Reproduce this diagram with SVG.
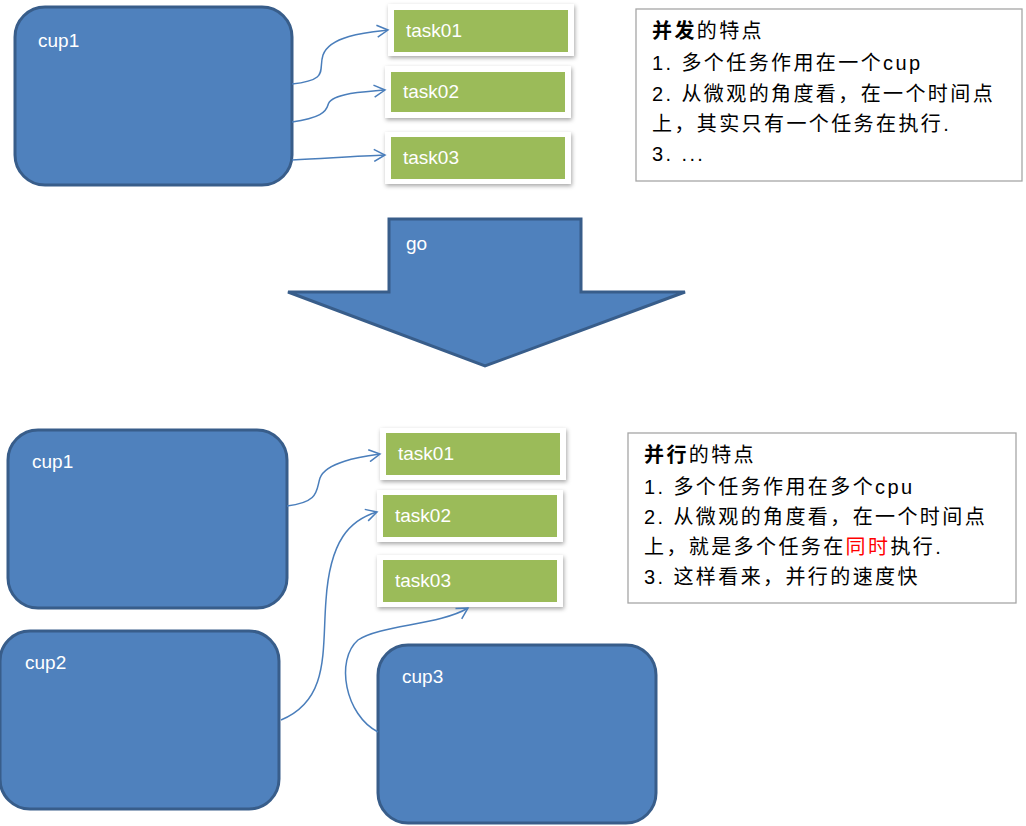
<svg xmlns="http://www.w3.org/2000/svg" width="1026" height="826" viewBox="0 0 1026 826">
<defs>
<filter id="sh" x="-10%" y="-20%" width="130%" height="150%"><feDropShadow dx="1" dy="2" stdDeviation="2" flood-color="#000" flood-opacity="0.35"/></filter>
<marker id="ar" markerWidth="14" markerHeight="14" refX="12" refY="7" orient="auto" markerUnits="userSpaceOnUse"><path d="M1,1 L12,7 L1,13" fill="none" stroke="#4a7ebb" stroke-width="1.5"/></marker>
</defs>
<style>
.cpu{fill:#4f81bd;stroke:#385d8a;stroke-width:3}
.tw{fill:#fff;filter:url(#sh)}
.tg{fill:#9bbb59}
.t{font-family:"Liberation Sans","Noto Sans CJK SC",sans-serif;font-size:19px;fill:#fff}
.b{font-family:"Liberation Sans","Noto Sans CJK SC",sans-serif;font-size:20px;fill:#000;letter-spacing:2.4px}
.box{fill:#fff;stroke:#a6a6a6;stroke-width:1.3}
.c{fill:none;stroke:#4a7ebb;stroke-width:1.5;marker-end:url(#ar)}
</style>
<rect width="1026" height="826" fill="#fff"/>
<g id="cup1a"><rect class="cpu" x="15" y="7" width="277" height="178" rx="30"/><text class="t" x="38" y="47">cup1</text></g>
<g id="t01a"><rect class="tw" x="388" y="4" width="186" height="52"/><rect class="tg" x="394" y="10" width="174" height="42"/><text class="t" x="406" y="37">task01</text></g>
<g id="t02a"><rect class="tw" x="385" y="66" width="186" height="52"/><rect class="tg" x="391" y="72" width="174" height="40"/><text class="t" x="403" y="98">task02</text></g>
<g id="t03a"><rect class="tw" x="385" y="132" width="186" height="52"/><rect class="tg" x="391" y="137" width="174" height="42"/><text class="t" x="403" y="164">task03</text></g>
<g id="note1"><rect class="box" x="636" y="9" width="386" height="172"/>
<text class="b" x="652" y="38"><tspan font-weight="bold">并发</tspan>的特点</text>
<text class="b" x="652" y="70">1. 多个任务作用在一个cup</text>
<text class="b" x="652" y="101">2. 从微观的角度看，在一个时间点</text>
<text class="b" x="652" y="131">上，其实只有一个任务在执行.</text>
<text class="b" x="652" y="161">3. ...</text></g>
<g id="go"><path class="cpu" d="M389,219 H581 V292 H685 L485,366 L288,292 H389 Z" stroke-width="2.5"/><text class="t" x="406" y="250">go</text></g>
<g id="cup1b"><rect class="cpu" x="8" y="430" width="279" height="178" rx="30"/><text class="t" x="32" y="468">cup1</text></g>
<g id="cup2"><rect class="cpu" x="0" y="631" width="279" height="178" rx="30"/><text class="t" x="25" y="669">cup2</text></g>
<g id="cup3"><rect class="cpu" x="378" y="645" width="278" height="178" rx="30"/><text class="t" x="402" y="683">cup3</text></g>
<g id="t01b"><rect class="tw" x="380" y="428" width="186" height="52"/><rect class="tg" x="386" y="433" width="174" height="42"/><text class="t" x="398" y="460">task01</text></g>
<g id="t02b"><rect class="tw" x="377" y="490" width="186" height="52"/><rect class="tg" x="383" y="495" width="174" height="42"/><text class="t" x="395" y="522">task02</text></g>
<g id="t03b"><rect class="tw" x="377" y="555" width="186" height="52"/><rect class="tg" x="383" y="560" width="174" height="42"/><text class="t" x="395" y="587">task03</text></g>
<g id="note2"><rect class="box" x="628" y="433" width="388" height="170"/>
<text class="b" x="644" y="462"><tspan font-weight="bold">并行</tspan>的特点</text>
<text class="b" x="644" y="494">1. 多个任务作用在多个cpu</text>
<text class="b" x="644" y="524">2. 从微观的角度看，在一个时间点</text>
<text class="b" x="644" y="554">上，就是多个任务在<tspan fill="#ff0000">同时</tspan>执行.</text>
<text class="b" x="644" y="584">3. 这样看来，并行的速度快</text></g>
<g id="connectors">
<path class="c" d="M292,84 C330,80 318,70 323,55 C330,35 370,32 388,30"/>
<path class="c" d="M292,122 C320,118 326,112 328,105 C330,93 365,92 385,90"/>
<path class="c" d="M292,160 C330,158 360,156 385,155"/>
<path class="c" d="M287,506 C320,502 316,490 320,478 C326,462 360,457 380,454"/>
<path class="c" d="M281,720 C330,700 322,650 326,600 C330,540 350,520 377,512"/>
<path class="c" d="M378,732 C345,715 335,660 358,640 C380,625 440,625 468,608"/>
</g>
</svg>
